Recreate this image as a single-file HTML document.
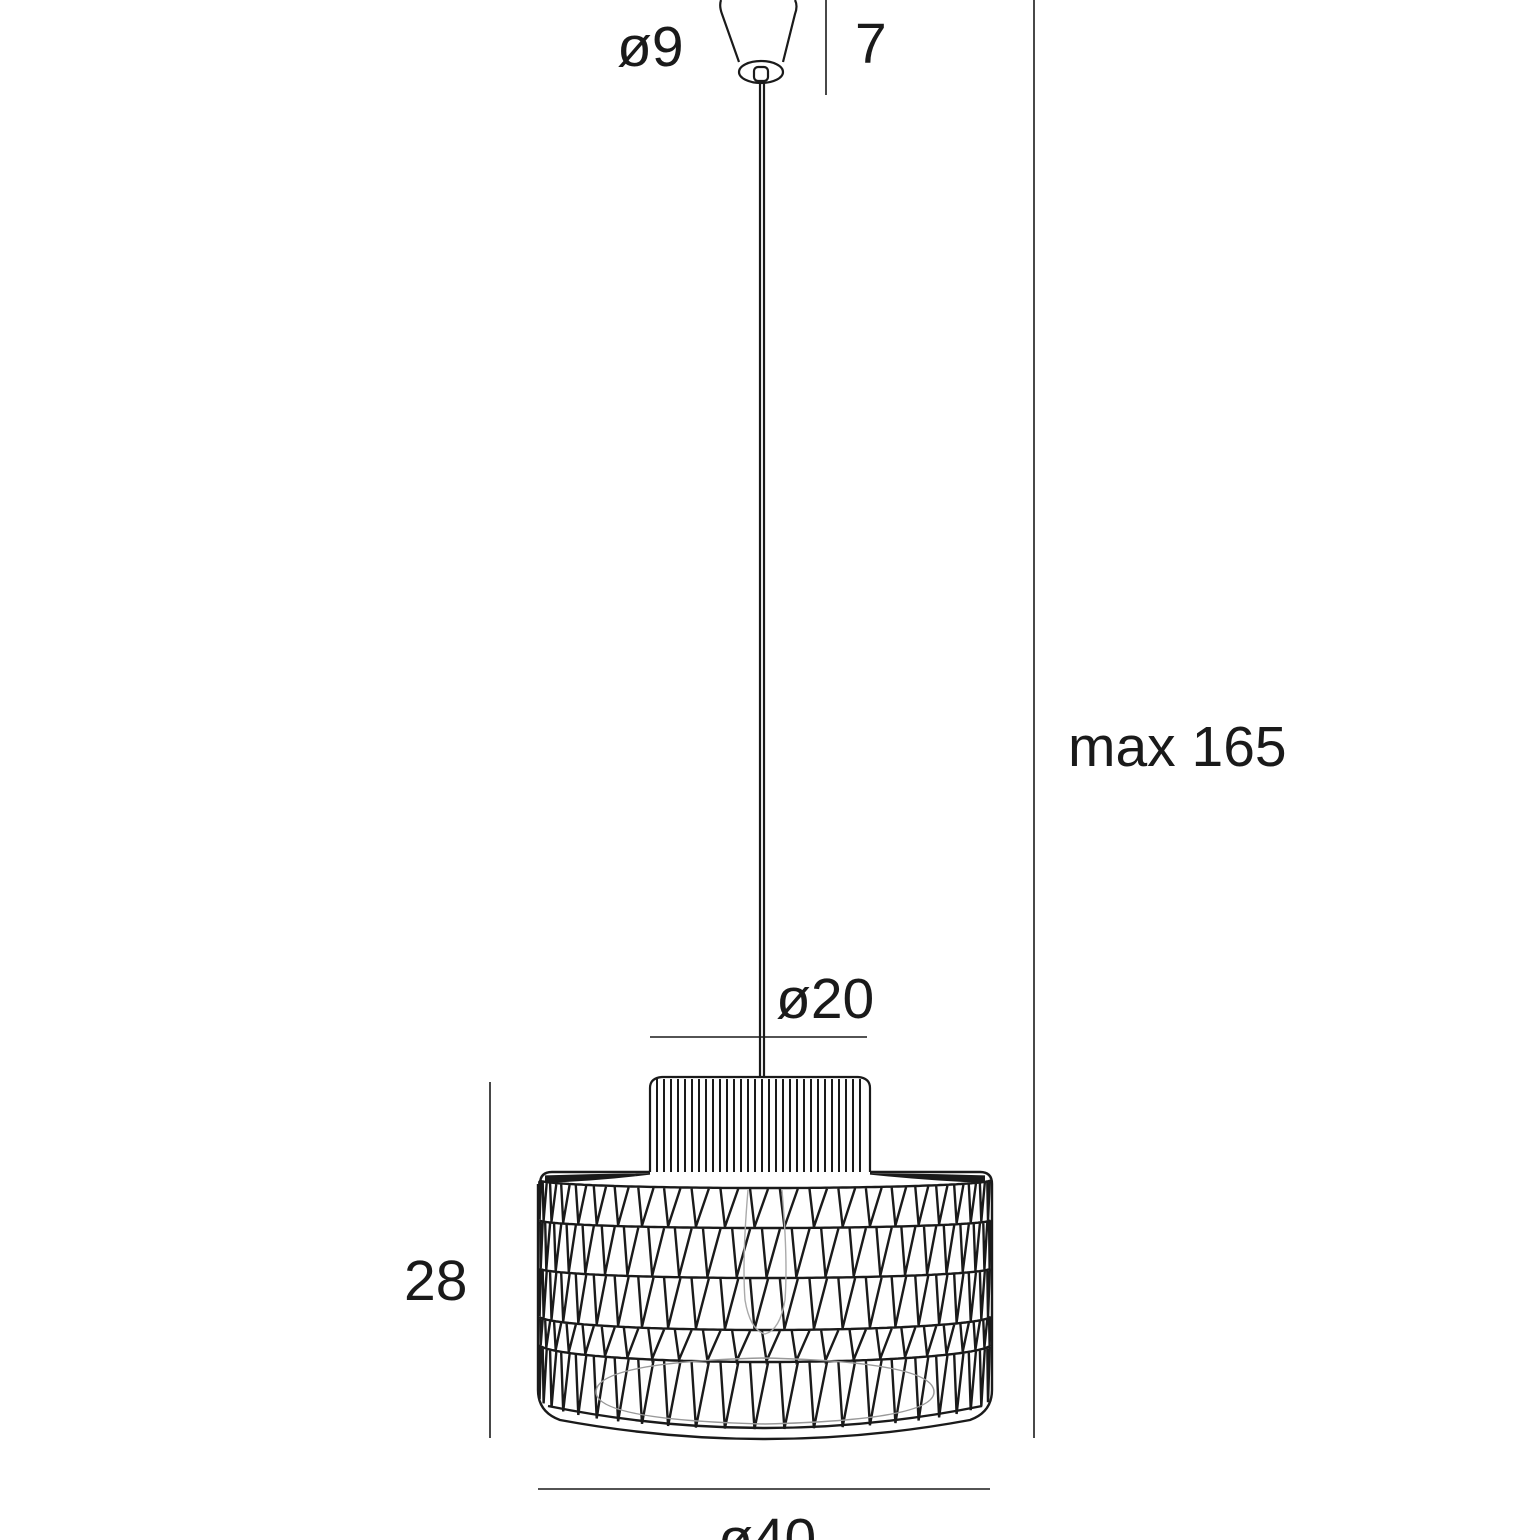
<!DOCTYPE html>
<html><head><meta charset="utf-8"><style>
html,body{margin:0;padding:0;background:#fff;}
svg{display:block}
text{font-family:"Liberation Sans",sans-serif;fill:#1a1a1a;font-size:57px}
</style></head><body>
<svg id="s" width="1540" height="1540" viewBox="0 0 1540 1540" xmlns="http://www.w3.org/2000/svg">
<g stroke="#1a1a1a" fill="none" stroke-width="1.6">
<line x1="826" y1="0" x2="826" y2="95"/>
<line x1="1034" y1="0" x2="1034" y2="1438"/>
<line x1="650" y1="1037" x2="867" y2="1037"/>
<line x1="490" y1="1082" x2="490" y2="1438"/>
<line x1="538" y1="1489" x2="990" y2="1489"/>
</g>
<g stroke="#1a1a1a" fill="none" stroke-width="2.2">
<path d="M721,0 Q719,6 722,14 L739,62 M795,0 Q798,6 795,14 L783,62"/>
<ellipse cx="761" cy="72" rx="22" ry="11"/>
<rect x="754" y="67" width="14" height="14" rx="4" fill="#fff"/>
<line x1="760" y1="81" x2="760" y2="1077"/>
<line x1="764" y1="81" x2="764" y2="1077"/>
<path d="M650,1172 L650,1088 Q650,1078 662,1077 L858,1077 Q870,1078 870,1088 L870,1172"/>
</g>
<g id="g" stroke="#1a1a1a" fill="none" stroke-width="2.4"></g>
<text x="617" y="66">ø9</text>
<text x="855" y="63">7</text>
<text x="1068" y="766">max 165</text>
<text x="776" y="1018">ø20</text>
<text x="404" y="1300">28</text>
<text x="718" y="1558">ø40</text>
</svg>
<script>
(function(){
var g=document.getElementById('g'),cx=765,R=226,d='';
function P(s,c,w){var p=document.createElementNS('http://www.w3.org/2000/svg','path');p.setAttribute('d',s);if(c)p.setAttribute('stroke',c);if(w)p.setAttribute('stroke-width',w);g.appendChild(p);}
for(var x=657;x<866;x+=7){d+='M'+x+',1079 L'+x+',1172 ';}
P(d,null,'2');d='';
var rows=[[1180,8],[1220,8],[1268,10],[1316,14],[1344,18],[1398,32]];
function Y(r,t){return r[0]+r[1]*Math.sin(t);}
function X(t){return cx-R*Math.cos(t);}
for(var i=0;i<rows.length-1;i++){
 var s='';
 for(var t=0.04;t<=Math.PI-0.04+1e-9;t+=0.02){s+=(s?'L':'M')+X(t).toFixed(1)+','+Y(rows[i],t).toFixed(1)+' ';}
 P(s);
}
P('M540,1184 Q540,1172 552,1172 L650,1172 M870,1172 L980,1172 Q992,1172 992,1184 L992,1390 Q992,1412 970,1420 Q765,1458 560,1420 Q538,1412 538,1390 L538,1184');
P('M548,1406 Q765,1450 982,1406');
var n=23;
for(var i=0;i<rows.length-1;i++){
 var a=rows[i],b=rows[i+1],s='',step=(Math.PI-0.1)/n,sh=(i%2)*step*0.4;
 for(var j=0;j<n;j++){
  var t1=0.05+j*step+sh;
  var t2=t1+step*0.15, t3=t1+step*0.6;
  if(t3>Math.PI-0.03)break;
  s+='M'+X(t1).toFixed(1)+','+(Y(a,t1)+1).toFixed(1)+' L'+X(t2).toFixed(1)+','+(Y(b,t2)-1).toFixed(1)+' L'+X(t3).toFixed(1)+','+(Y(a,t3)+1).toFixed(1)+' ';
 }
 P(s);
}
var s='';
for(var k=0;k<8;k++){var y=1174+k*0.9;s+='M545,'+(y+2)+' Q600,'+(y)+' 650,1174 M870,1174 Q930,'+y+' 985,'+(y+2)+' ';}
P(s,'#1a1a1a','1.2');
P('M748,1190 Q742,1260 745,1300 Q750,1330 765,1334 Q780,1330 785,1300 Q788,1260 782,1190','#aaa','1.4');
P('M596,1392 Q596,1362 765,1358 Q934,1362 934,1392 Q934,1420 765,1424 Q596,1420 596,1392 Z','#999','1.5');
})();
</script>
</body></html>
